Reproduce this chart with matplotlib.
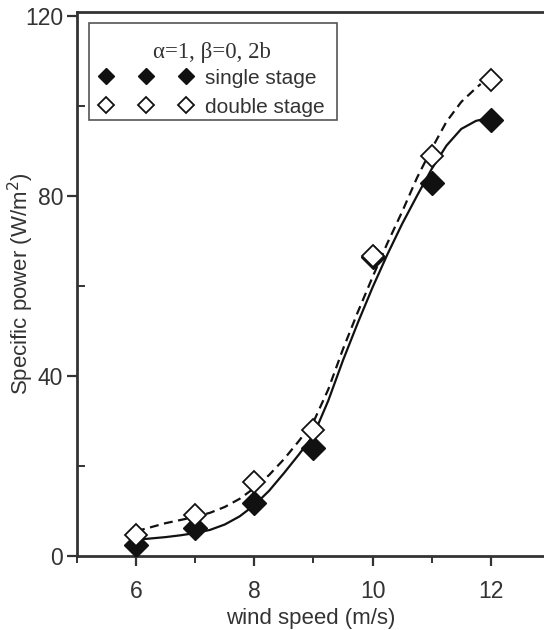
import matplotlib
matplotlib.use("Agg")
import matplotlib.pyplot as plt
from matplotlib.ticker import MultipleLocator
from matplotlib.patches import Rectangle

# Data points
wind_speed = [6, 7, 8, 9, 10, 11, 12]
single_stage = [2.4, 6.2, 11.8, 24.0, 66.4, 82.9, 96.9]
double_stage = [4.7, 9.1, 16.4, 28.0, 66.6, 88.8, 105.8]

# Fitted curves
solid_x = [6.0, 6.25, 6.5, 6.75, 7.0, 7.25, 7.5, 7.75, 8.0, 8.25, 8.5, 8.75, 9.0,
           9.25, 9.5, 9.75, 10.0, 10.25, 10.5, 10.75, 11.0, 11.25, 11.5, 11.75, 11.85]
solid_y = [3.6, 3.9, 4.2, 4.6, 5.1, 5.8, 7.0, 8.8, 11.3, 14.5, 18.4, 22.5, 26.8,
           34.5, 43.5, 51.8, 59.7, 67.0, 73.8, 80.0, 86.0, 91.2, 94.9, 96.7, 97.0]
dash_x = [6.0, 6.25, 6.5, 6.75, 7.0, 7.25, 7.5, 7.75, 8.0, 8.25, 8.5, 8.75, 9.0,
          9.25, 9.5, 9.75, 10.0, 10.25, 10.5, 10.75, 11.0, 11.25, 11.5, 11.75, 11.83]
dash_y = [5.5, 6.4, 7.3, 8.0, 8.7, 9.6, 10.9, 12.7, 15.1, 18.0, 21.5, 25.5, 29.8,
          37.0, 46.0, 54.2, 62.0, 69.5, 76.5, 84.0, 90.5, 96.5, 100.9, 104.0, 104.9]

x_ticks = [6, 8, 10, 12]
y_ticks = [0, 40, 80, 120]

TXT = "#333333"
plt.rcParams['font.family'] = ['Liberation Sans', 'DejaVu Sans']

fig = plt.figure(figsize=(5.44, 6.30), dpi=100)
ax = fig.add_axes([77/544, 1 - 556/630, 1 - 77/544, 544/630])

ax.plot(dash_x, dash_y, color="#111111", lw=1.6, ls=(0, (4, 2.5)), zorder=2)
ax.plot(solid_x, solid_y, color="#111111", lw=1.6, ls="-", zorder=2)

ax.plot(wind_speed, single_stage, ls="none", marker="D", ms=12, mfc="#111111",
        mec="#111111", zorder=3, label="single stage")
ax.plot(wind_speed, double_stage, ls="none", marker="D", ms=11, mfc="white",
        mec="#111111", mew=1.3, zorder=4, label="double stage")

ax.set_xlim(5, 12.9)
ax.set_ylim(0, 544/4.5)
ax.set_xticks(x_ticks)
ax.set_yticks(y_ticks)
ax.xaxis.set_minor_locator(MultipleLocator(1))
ax.yaxis.set_minor_locator(MultipleLocator(20))
ax.tick_params(axis="both", which="major", direction="out", length=7, width=1.6,
               labelsize=16.5, labelcolor=TXT, color="#333333")
ax.tick_params(axis="x", which="major", pad=10)
ax.tick_params(axis="y", which="major", pad=3)
ax.tick_params(axis="x", which="minor", direction="out", length=5, width=1.4, color="#333333")
ax.tick_params(axis="y", which="minor", direction="in", length=6, width=1.4, color="#333333")

for s in ["right"]:
    ax.spines[s].set_visible(False)
for s in ["left", "bottom", "top"]:
    ax.spines[s].set_linewidth(2.0)
    ax.spines[s].set_color("#333333")

ax.set_xlabel("wind speed (m/s)", fontsize=16, color=TXT, labelpad=4)
ax.set_ylabel("Specific power (W/m$^2$)", fontsize=16, color=TXT)
ax.yaxis.set_label_coords((36 - 77) / 467, 0.5)

# legend box and title
ax.add_patch(Rectangle((0.0257, 0.8015), 0.531, 0.1785, transform=ax.transAxes,
                       fill=False, edgecolor="#555555", lw=1.2, zorder=5))
ax.text(0.289, 0.926, "α=1, β=0, 2b", transform=ax.transAxes, ha="center",
        va="center", fontsize=16.5, family="Liberation Serif", color=TXT, zorder=6)

leg = ax.legend(loc="upper left", bbox_to_anchor=(0.049, 0.896), numpoints=3,
                markerscale=0.72, fontsize=15, frameon=False,
                handlelength=4.45, handletextpad=0.6,
                borderpad=0, labelspacing=0.48, borderaxespad=0)
for t in leg.get_texts():
    t.set_color(TXT)

fig.savefig("out.png", dpi=100)
